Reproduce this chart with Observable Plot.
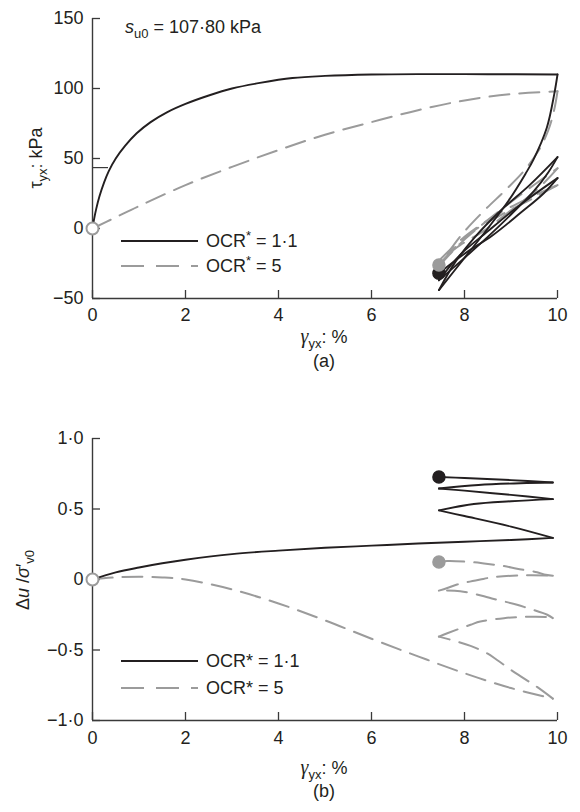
<!DOCTYPE html>
<html><head><meta charset="utf-8">
<script src="https://cdn.jsdelivr.net/npm/d3@7"></script>
<script src="https://cdn.jsdelivr.net/npm/@observablehq/plot@0.6"></script>
<style>
html,body{margin:0;padding:0;background:#fff;}
body{width:580px;height:812px;overflow:hidden;}
svg{display:block;}
</style></head><body><div id="a"></div><div id="b"></div>
<script>
const FONT = '"Liberation Sans", Arial, Helvetica, sans-serif';
const SERIF = '"Liberation Serif", "Times New Roman", serif';
const BLACK = "#231f20", GRAY = "#9b9b9b", AXIS = "#3a3a3a";
const DASH = "20,10";
const FS = 18;

// ---- ticks ----
const gammaTicks = [0, 2, 4, 6, 8, 10];
const tauTicks = [-50, 0, 50, 100, 150];
const duTicks = [-1, -0.5, 0, 0.5, 1];
const tauStub = [43.5]; // stray short mark on the axis in the original

// ---- panel (a): tau_yx (kPa) vs gamma_yx (%) ----
const tauOcr11Mono = [[0,0],[0.03,6],[0.08,14],[0.15,23],[0.25,33],[0.35,41],[0.5,50],[0.7,59],[0.95,68],[1.25,76],[1.6,83],[2.0,89],[2.5,95],[3.0,100],[3.6,104],[4.3,107.5],[5,109],[6,110],[7,110.3],[8.5,110.2],[10,110]];
const tauOcr11Unload1 = [[10,110],[9.93,96],[9.77,72],[9.48,49],[9.31,39],[8.95,20],[8.5,0],[8,-21],[7.45,-44]];
const tauOcr11Reload1 = [[7.45,-44],[7.8,-24],[8.2,-7],[8.75,12],[9.4,31],[10,51]];
const tauOcr11Unload2 = [[10,51],[9.8,40],[9.5,27],[9,10],[8.5,-6],[8,-21],[7.45,-37]];
const tauOcr11Reload2 = [[7.45,-37],[7.9,-19],[8.5,-2],[9.2,17],[10,36]];
const tauOcr11Unload3 = [[10,36],[9.7,25],[9.2,11],[8.6,-5],[8,-18],[7.45,-32]];
const tauOcr11End = [[7.45,-32]];

const tauOcr5Mono = [[0,0],[0.5,8],[1,16],[2,31],[3,44],[4,56],[5,67],[6,76],[7,84.5],[8,91.5],[9,96],[10,98]];
const tauOcr5Unload1 = [[10,98],[9.93,85],[9.8,70],[9.6,56],[9.3,42],[8.9,28],[8.4,12],[7.9,-6],[7.45,-27]];
const tauOcr5Reload1 = [[7.45,-27],[7.9,-11],[8.5,6],[9.2,24],[10,43]];
const tauOcr5Unload2 = [[10,43],[9.6,29],[9,13],[8.4,-2],[7.9,-12],[7.45,-23]];
const tauOcr5Reload2 = [[7.45,-23],[8,-6],[8.7,10],[9.4,22],[10,31]];
const tauOcr5Unload3 = [[10,31],[9.5,22],[8.8,10],[8.1,-4],[7.45,-26]];
const tauOcr5End = [[7.45,-26]];

// ---- panel (b): du/sigma'v0 vs gamma_yx (%) ----
const duOcr11Mono = [[0,0],[0.5,0.05],[1,0.085],[1.5,0.115],[2,0.14],[3,0.18],[4,0.205],[5,0.225],[6,0.24],[7,0.255],[8,0.268],[9,0.28],[9.9,0.295]];
const duOcr11Unload1 = [[9.9,0.295],[9,0.375],[8,0.45],[7.45,0.49]];
const duOcr11Reload1 = [[7.45,0.49],[8.2,0.535],[9,0.555],[9.9,0.57]];
const duOcr11Unload2 = [[9.9,0.57],[9,0.6],[8,0.63],[7.45,0.645]];
const duOcr11Reload2 = [[7.45,0.645],[8.3,0.67],[9.2,0.683],[9.9,0.688]];
const duOcr11Unload3 = [[9.9,0.688],[9,0.705],[8,0.72],[7.45,0.727]];
const duOcr11End = [[7.45,0.727]];

const duOcr5Mono = [[0,0],[0.5,0.015],[1,0.02],[1.5,0.015],[2,0],[3,-0.07],[4,-0.17],[5,-0.29],[6,-0.42],[7,-0.545],[8,-0.665],[9,-0.77],[9.9,-0.845]];
const duOcr5Unload1 = [[9.9,-0.845],[9.56,-0.762],[9.06,-0.655],[8.7,-0.571],[8.49,-0.524],[8.13,-0.471],[7.84,-0.44],[7.45,-0.405]];
const duOcr5Reload1 = [[7.45,-0.405],[7.63,-0.381],[8.13,-0.321],[8.34,-0.298],[8.85,-0.274],[9.3,-0.265],[9.75,-0.266],[9.9,-0.274]];
const duOcr5Unload2 = [[9.9,-0.274],[9.78,-0.25],[9.35,-0.202],[9.13,-0.179],[8.63,-0.138],[8.42,-0.119],[7.91,-0.083],[7.45,-0.079]];
const duOcr5Reload2 = [[7.45,-0.079],[7.63,-0.06],[7.84,-0.036],[8.34,0],[8.63,0.017],[9.2,0.029],[9.75,0.029],[9.9,0.027]];
const duOcr5Unload3 = [[9.9,0.027],[9.71,0.036],[9.56,0.052],[9.13,0.076],[8.85,0.095],[8.42,0.114],[8.13,0.124],[7.63,0.131],[7.45,0.124]];
const duOcr5End = [[7.45,0.124]];

const origin = [[0,0]];

function rows(branches, name) {
  return branches.flatMap((b, i) => b.map(([g, v]) => ({branch: name + i, g, v})));
}

const W = 580, ML = 92, MR = 23;

function panel({height, mt, mb, ydom, yTicks, yFmt, blackRows, grayRows, blackEnd, grayEnd, extraTicks, xLabDy}) {
  const frameW = W - ML - MR, frameH = height - mt - mb;
  return Plot.plot({
    width: W, height, marginLeft: ML, marginRight: MR, marginTop: mt, marginBottom: mb,
    x: {domain: [0, 10], axis: null},
    y: {domain: ydom, axis: null},
    style: {fontFamily: FONT, fontSize: FS + "px", color: BLACK, background: "white", overflow: "visible"},
    marks: [
      Plot.ruleX([0], {x: d => d, stroke: AXIS, strokeWidth: 1.4}),
      Plot.ruleY([ydom[0]], {y: d => d, stroke: AXIS, strokeWidth: 1.4}),
      Plot.ruleY(yTicks, {y: d => d, insetRight: frameW - 8, stroke: AXIS, strokeWidth: 1.3}),
      ...(extraTicks ? [Plot.ruleY(extraTicks, {y: d => d, insetRight: frameW - 16, stroke: AXIS, strokeWidth: 1.2})] : []),
      Plot.ruleX(gammaTicks, {x: d => d, insetTop: frameH - 8, stroke: AXIS, strokeWidth: 1.3}),
      Plot.text(gammaTicks, {x: d => d, frameAnchor: "bottom", dy: xLabDy, text: d => String(d), fill: BLACK}),
      Plot.text(yTicks, {y: d => d, frameAnchor: "left", dx: -9, textAnchor: "end", text: yFmt, fill: BLACK}),
      Plot.line(grayRows, {x: "g", y: "v", z: "branch", stroke: GRAY, strokeWidth: 2, strokeDasharray: DASH, curve: "catmull-rom"}),
      Plot.line(blackRows, {x: "g", y: "v", z: "branch", stroke: BLACK, strokeWidth: 1.9, curve: "catmull-rom"}),
      Plot.dot(blackEnd, {x: d => d[0], y: d => d[1], r: 6, fill: BLACK, stroke: BLACK}),
      Plot.dot(grayEnd, {x: d => d[0], y: d => d[1], r: 6, fill: GRAY, stroke: GRAY}),
      Plot.dot(origin, {x: d => d[0], y: d => d[1], r: 6, fill: "white", stroke: GRAY, strokeWidth: 2})
    ]
  });
}

const fmtDu = d => d === 0 ? "0" : (d < 0 ? "\u2212" : "") + Math.abs(d).toFixed(1).replace(".", "\u00b7");
const fmtTau = d => (d < 0 ? "\u2212" : "") + Math.abs(d);

const svgA = panel({
  height: 400, mt: 18, mb: 102, ydom: [-50, 150], yTicks: tauTicks, yFmt: fmtTau, xLabDy: 22,
  extraTicks: tauStub,
  blackRows: rows([tauOcr11Mono, tauOcr11Unload1, tauOcr11Reload1, tauOcr11Unload2, tauOcr11Reload2, tauOcr11Unload3], "k"),
  grayRows: rows([tauOcr5Mono, tauOcr5Unload1, tauOcr5Reload1, tauOcr5Unload2, tauOcr5Reload2, tauOcr5Unload3], "g"),
  blackEnd: tauOcr11End, grayEnd: tauOcr5End
});
const svgB = panel({
  height: 412, mt: 38, mb: 92, ydom: [-1, 1], yTicks: duTicks, yFmt: fmtDu, xLabDy: 23,
  blackRows: rows([duOcr11Mono, duOcr11Unload1, duOcr11Reload1, duOcr11Unload2, duOcr11Reload2, duOcr11Unload3], "k"),
  grayRows: rows([duOcr5Mono, duOcr5Unload1, duOcr5Reload1, duOcr5Unload2, duOcr5Reload2, duOcr5Unload3], "g"),
  blackEnd: duOcr11End, grayEnd: duOcr5End
});
document.getElementById("a").appendChild(svgA);
document.getElementById("b").appendChild(svgB);

// ---- rich text (titles, legend, annotation) ----
function rich(svg, x, y, parts, opts = {}) {
  const t = d3.select(svg).append("text")
    .attr("x", x).attr("y", y)
    .attr("font-family", FONT).attr("font-size", FS).attr("fill", BLACK)
    .attr("text-anchor", opts.anchor || "start");
  if (opts.rotate) t.attr("transform", `rotate(-90 ${x} ${y})`);
  for (const p of parts) {
    const s = t.append("tspan").text(p.t);
    if (p.i) s.attr("font-style", "italic");
    if (p.serif) s.attr("font-family", SERIF).attr("font-size", FS + 2);
    if (p.sub) s.attr("font-size", 13).attr("dy", 5);
    if (p.sup) s.attr("font-size", 13).attr("dy", -7);
    if (p.back) s.attr("dy", p.back);
  }
  return t;
}
function legend(svg, y0, y1, starSup) {
  const g = d3.select(svg).append("g");
  g.append("line").attr("x1", 121).attr("x2", 198).attr("y1", y0).attr("y2", y0)
    .attr("stroke", BLACK).attr("stroke-width", 2);
  g.append("line").attr("x1", 121).attr("x2", 198).attr("y1", y1).attr("y2", y1)
    .attr("stroke", GRAY).attr("stroke-width", 2).attr("stroke-dasharray", "23,12");
  const star = starSup ? [{t: "OCR"}, {t: "*", sup: true}, {t: " = 1\u00b71", back: 7}] : [{t: "OCR* = 1\u00b71"}];
  const star5 = starSup ? [{t: "OCR"}, {t: "*", sup: true}, {t: " = 5", back: 7}] : [{t: "OCR* = 5"}];
  rich(svg, 206, y0 + 6, star);
  rich(svg, 206, y1 + 6, star5);
}

// panel a
rich(svgA, 125, 33, [{t: "s", i: true}, {t: "u0", sub: true}, {t: " = 107\u00b780 kPa", back: -5}]);
rich(svgA, 42, 158, [{t: "\u03c4"}, {t: "yx", sub: true}, {t: ": kPa", back: -5}], {anchor: "middle", rotate: true});
rich(svgA, 324, 343, [{t: "\u03b3", i: true, serif: true}, {t: "yx", sub: true}, {t: ": %", back: -5}], {anchor: "middle"});
rich(svgA, 324, 367, [{t: "(a)"}], {anchor: "middle"});
legend(svgA, 241, 266, true);

// panel b
rich(svgB, 29, 180, [{t: "\u0394"}, {t: "u", i: true}, {t: " /"}, {t: "\u03c3", i: true}, {t: "\u2032"}, {t: "v0", sub: true}], {anchor: "middle", rotate: true});
rich(svgB, 324, 374, [{t: "\u03b3", i: true, serif: true}, {t: "yx", sub: true}, {t: ": %", back: -5}], {anchor: "middle"});
rich(svgB, 324, 397, [{t: "(b)"}], {anchor: "middle"});
legend(svgB, 261, 288, false);
</script></body></html>
